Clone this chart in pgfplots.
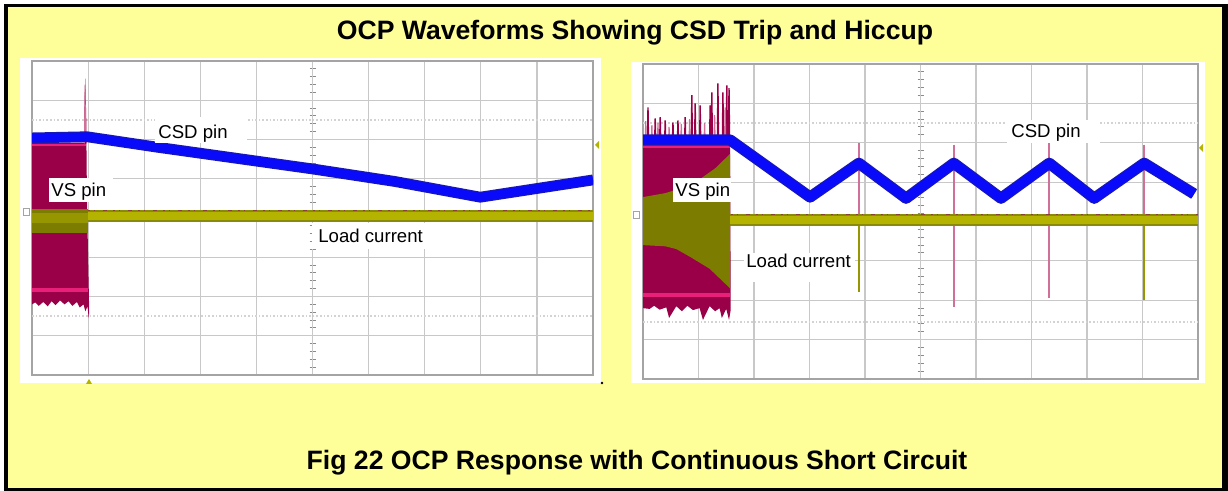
\documentclass[border=0pt]{standalone}
\usepackage{pgfplots}
\pgfplotsset{compat=1.18}
\usepackage{fontspec}
\setmainfont{Liberation Sans}
\definecolor{bgyellow}{HTML}{FFFF99}
\definecolor{gridgray}{HTML}{C8C8C8}
\definecolor{framegray}{HTML}{A4A4A4}
\definecolor{tickgray}{HTML}{8A8A8A}
\definecolor{bluecore}{HTML}{0A0AFA}
\definecolor{blueedge}{HTML}{1818B4}
\definecolor{vscrim}{HTML}{990048}
\definecolor{pinkline}{HTML}{E8207A}
\definecolor{pinklight}{HTML}{D07098}
\definecolor{olivedark}{HTML}{7C7C00}
\definecolor{olivemid}{HTML}{969600}
\definecolor{yellowcore}{HTML}{B4B400}
\definecolor{yellowedge}{HTML}{8A8A0A}
\definecolor{specks}{HTML}{8B4030}

\pgfplotsset{
  oscpanel/.style={
    scale only axis, anchor=origin,
    xmin=0, xmax=10, ymin=0, ymax=8,
    xtick={0,...,10}, ytick={0,...,8},
    xticklabels={}, yticklabels={},
    tick label style={inner sep=0pt},
    major tick length=0pt,
    grid=major, grid style={gridgray, line width=0.6pt},
    axis line style={framegray, line width=1.1pt},
    clip=true,
  },
}
\tikzset{
  img/.style={x=0.5pt, y=-0.5pt, shift={(0pt,245.5pt)}},
  lbl/.style={anchor=base west, inner sep=0pt, font=\fontsize{9.3pt}{11pt}\selectfont},
}

\begin{document}
\begin{tikzpicture}
\begin{scope}[img]
% page background and frame
\fill[white] (0,0) rectangle (1228,491);
\fill[black] (4,4) rectangle (1228,491);
\fill[bgyellow] (7.5,7.5) rectangle (1221.5,488);
% white panels
\fill[white] (20,58) rectangle (601,383);
\fill[white] (631,62) rectangle (1205,383);
% graticule ticks on centre lines (behind the traces)
\foreach \i in {0,...,40} {
  \draw[tickgray, line width=0.5pt] (309.5,{61+\i*7.85}) -- (315.5,{61+\i*7.85});
  \draw[tickgray, line width=0.5pt] (917.5,{64+\i*7.875}) -- (923.5,{64+\i*7.875});
}
\foreach \i in {0,...,50} {
  \draw[tickgray, line width=0.5pt] ({32+\i*11.22},215) -- ({32+\i*11.22},221);
  \draw[tickgray, line width=0.5pt] ({643+\i*11.1},218) -- ({643+\i*11.1},224);
}
\end{scope}

% ================= LEFT PANEL =================
\begin{axis}[oscpanel, at={(16pt,58pt)}, width=280.5pt, height=157pt]
\draw[gridgray!80, densely dotted, line width=0.8pt] (axis cs:0,6.5) -- (axis cs:10,6.5);
\draw[gridgray!80, densely dotted, line width=0.8pt] (axis cs:0,1.5) -- (axis cs:10,1.5);
% VS pin (before trip)
\addplot[draw=none, fill=vscrim] coordinates {(0,5.92) (0.97,5.92) (0.98,4.5) (1.0,3.0) (1.02,1.6) (1.01,1.45) (0.99,1.75) (0.95,1.62) (0.92,1.8) (0.85,1.72) (0.8,1.86) (0.72,1.76) (0.65,1.88) (0.58,1.8) (0.5,1.9) (0.42,1.78) (0.35,1.88) (0.28,1.75) (0.2,1.86) (0.12,1.76) (0.06,1.85) (0,1.8)} -- cycle;
\addplot[pinkline, line width=2pt] coordinates {(0,2.17) (1.0,2.17)};
\addplot[pinkline, line width=1.2pt] coordinates {(0,5.86) (0.97,5.86)};
% load current (before trip)
\addplot[draw=none, fill=olivedark] coordinates {(0,4.22) (0.99,4.22) (0.99,3.62) (0,3.62)} -- cycle;
\addplot[draw=none, fill=olivemid] coordinates {(0,4.12) (0.99,4.12) (0.99,3.88) (0,3.88)} -- cycle;
% VS spike at trip
\addplot[draw=none, fill=vscrim] coordinates {(0.925,5.9) (0.94,7.2) (0.95,7.57) (0.956,7.1) (0.965,6.7) (0.975,5.9)} -- cycle;
\addplot[pinklight, line width=0.5pt] coordinates {(0.935,5.9) (0.947,7.4) (0.952,6.2)};
% load current after trip
\addplot[yellowedge, line width=6pt] coordinates {(0.99,4.05) (10,4.05)};
\addplot[yellowcore, line width=4.4pt] coordinates {(0.99,4.05) (10,4.05)};
\addplot[specks, line width=0.6pt, dash pattern=on 1pt off 2pt on 0.5pt off 4pt on 2pt off 3pt] coordinates {(1.0,4.19) (10,4.19)};
% CSD pin
\addplot[blueedge, line width=5.4pt, line join=round] coordinates {(0,6.04) (0.98,6.07) (2.25,5.8) (3.65,5.52) (5.0,5.25) (6.47,4.93) (7.99,4.53) (10,4.97)};
\addplot[bluecore, line width=4.3pt, line join=round] coordinates {(0,6.04) (0.98,6.07) (2.25,5.8) (3.65,5.52) (5.0,5.25) (6.47,4.93) (7.99,4.53) (10,4.97)};
\end{axis}

% ================= RIGHT PANEL =================
\begin{axis}[oscpanel, at={(321.5pt,56pt)}, width=277.5pt, height=157.5pt]
\draw[gridgray!80, densely dotted, line width=0.8pt] (axis cs:0,6.5) -- (axis cs:10,6.5);
\draw[gridgray!80, densely dotted, line width=0.8pt] (axis cs:0,1.45) -- (axis cs:10,1.45);
% VS pin block
\addplot[draw=none, fill=vscrim] coordinates {(0,6.0) (1.57,6.0) (1.58,1.75) (1.55,1.5) (1.5,1.78) (1.42,1.55) (1.38,1.8) (1.3,1.72) (1.2,1.85) (1.08,1.5) (1.02,1.8) (0.9,1.75) (0.8,1.86) (0.7,1.72) (0.6,1.85) (0.47,1.55) (0.42,1.82) (0.3,1.76) (0.2,1.86) (0.12,1.78) (0,1.8)} -- cycle;
\addplot[pinkline, line width=2.2pt] coordinates {(0,2.13) (1.57,2.13)};
\addplot[pinkline, line width=1.2pt] coordinates {(0,5.9) (1.57,5.9)};
% load current before trip (olive region)
\addplot[draw=none, fill=olivedark] coordinates {(0,4.62) (0.4,4.72) (0.7,4.85) (1.0,5.05) (1.3,5.35) (1.57,5.72) (1.57,2.3) (1.2,2.8) (0.85,3.1) (0.6,3.3) (0.4,3.37) (0,3.40)} -- cycle;
% VS spikes above CSD level
\addplot[vscrim, line width=0.7pt] coordinates {(0,6) (0.08,6) (0.09,6.9) (0.1,6) (0.21,6) (0.22,6.62) (0.23,6) (0.3,6) (0.31,6.65) (0.32,6) (0.39,6) (0.4,6.57) (0.41,6) (0.53,6) (0.54,6.52) (0.55,6) (0.62,6) (0.63,6.57) (0.64,6) (0.75,6) (0.76,6.65) (0.77,6) (0.87,6) (0.88,7.21) (0.89,6) (0.93,6) (0.94,7.0) (0.95,6) (1.02,6) (1.03,6.95) (1.04,6) (1.2,6) (1.21,6.95) (1.22,6) (1.23,6) (1.24,7.28) (1.25,6) (1.34,6) (1.35,7.51) (1.36,6) (1.43,6) (1.44,7.28) (1.45,6) (1.5,6) (1.51,7.46) (1.52,6) (1.54,6) (1.55,7.39) (1.56,6) (1.57,6)};
\addplot[pinklight, line width=0.6pt] coordinates {(0.04,6) (0.05,6.55) (0.06,6) (0.15,6) (0.16,6.45) (0.17,6) (0.26,6) (0.27,6.5) (0.28,6) (0.46,6) (0.47,6.4) (0.48,6) (0.68,6) (0.69,6.48) (0.7,6) (0.83,6) (0.84,6.6) (0.85,6) (1.1,6) (1.11,6.5) (1.12,6) (1.28,6) (1.29,6.7) (1.3,6) (1.47,6) (1.48,6.9) (1.49,6)};
% VS spikes at each restart
\addplot[pinklight, line width=0.8pt] coordinates {(3.89,5.99) (3.89,4.1)};
\addplot[olivemid, line width=0.8pt] coordinates {(3.89,4.1) (3.89,2.21)};
\addplot[pinklight, line width=0.8pt] coordinates {(5.60,5.95) (5.60,1.83)};
\addplot[pinklight, line width=0.8pt] coordinates {(7.32,6.0) (7.32,2.06)};
\addplot[pinklight, line width=0.8pt] coordinates {(9.03,5.95) (9.03,4.1)};
\addplot[olivemid, line width=0.8pt] coordinates {(9.03,4.1) (9.03,2.0)};
% load current after trip
\addplot[yellowedge, line width=6pt] coordinates {(1.57,4.04) (10,4.04)};
\addplot[yellowcore, line width=4.4pt] coordinates {(1.57,4.04) (10,4.04)};
\addplot[specks, line width=0.6pt, dash pattern=on 1pt off 2pt on 0.5pt off 4pt on 2pt off 3pt] coordinates {(1.58,4.18) (10,4.18)};
% CSD pin
\addplot[blueedge, line width=5.6pt, line join=round] coordinates {(0,6.07) (1.57,6.07) (3.01,4.62) (3.89,5.48) (4.74,4.59) (5.60,5.48) (6.45,4.59) (7.32,5.48) (8.13,4.59) (9.03,5.48) (9.93,4.70)};
\addplot[bluecore, line width=4.5pt, line join=round] coordinates {(0,6.07) (1.57,6.07) (3.01,4.62) (3.89,5.48) (4.74,4.59) (5.60,5.48) (6.45,4.59) (7.32,5.48) (8.13,4.59) (9.03,5.48) (9.93,4.70)};
\end{axis}

\begin{scope}[img]
% scope markers
\fill[yellowcore] (599,141) -- (595,145) -- (599,149) -- cycle;
\fill[yellowcore] (1203,144) -- (1199,148) -- (1203,152) -- cycle;
\fill[yellowcore] (86,384) -- (89,379) -- (92,384) -- cycle;
\draw[framegray, line width=0.5pt] (23,209) rectangle (29,216);
\draw[framegray, line width=0.5pt] (633,212) rectangle (639,219);
\fill[black] (602,383) circle (1.3);

% labels
\fill[white] (155,117) rectangle (247,143);
\node[lbl] at (158,139) {CSD pin};
\fill[white] (49,178) rectangle (113,202);
\node[lbl] at (51,197) {VS pin};
\fill[white] (312,223) rectangle (458,249);
\node[lbl] at (318,243) {Load current};

\fill[white] (1007,120) rectangle (1100,143);
\node[lbl] at (1011,138) {CSD pin};
\fill[white] (673,178) rectangle (731,202);
\node[lbl] at (675,197) {VS pin};
\fill[white] (744,253) rectangle (855,282);
\node[lbl] at (746,268) {Load current};

% titles
\node[anchor=base, inner sep=0pt, font=\bfseries\fontsize{13.3pt}{16pt}\selectfont] at (635,39.5) {OCP Waveforms Showing CSD Trip and Hiccup};
\node[anchor=base, inner sep=0pt, font=\bfseries\fontsize{13.3pt}{16pt}\selectfont] at (637,470) {Fig 22 OCP Response with Continuous Short Circuit};
\end{scope}

\pgfresetboundingbox
\path[use as bounding box] (0pt,0pt) rectangle (614pt,245.5pt);
\end{tikzpicture}
\end{document}
